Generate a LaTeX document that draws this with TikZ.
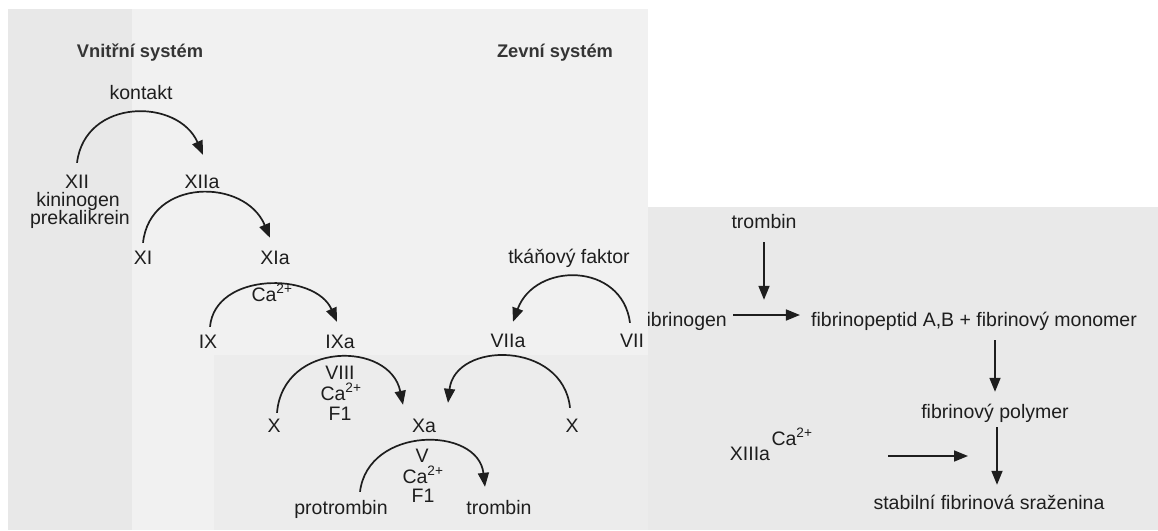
\documentclass[tikz,border=0pt]{standalone}
\usepackage{fontspec}
\setmainfont{Liberation Sans}
\usetikzlibrary{arrows.meta,calc}
\definecolor{ink}{HTML}{1E1E1E}
\definecolor{pageL}{HTML}{F1F1F1}
\definecolor{pageLd}{HTML}{E8E8E8}
\definecolor{pageLm}{HTML}{ECECEC}
\definecolor{pageR}{HTML}{E9E9E9}
\newcommand{\cadva}{Ca\textsuperscript{2+}}
\begin{document}
\begin{tikzpicture}[x=1pt,y=-1pt,
  lbl/.style={font=\fontsize{19.5}{22}\selectfont, text=ink, inner sep=0pt,
              text height=14pt, text depth=4pt, anchor=base},
  ttl/.style={font=\fontsize{18.3}{22}\selectfont\bfseries, text=ink!90, inner sep=0pt,
              text height=14pt, text depth=4pt, anchor=base},
  arr/.style={draw=ink, line width=1.7pt, -{Triangle[length=14pt,width=11pt]}}]
% background (scanned pages)
\useasboundingbox (0,0) rectangle (1158,530);
\fill[white] (0,0) rectangle (1158,530);
\fill[pageL] (8,9) rectangle (648,530);
\fill[pageLd] (8,9) rectangle (132,530);
\fill[pageLm] (214,355) rectangle (648,530);
\fill[pageR] (648,207) rectangle (1158,530);
% titles
\node[ttl] (vs) at (140,57) {Vnitřní systém};
\node[ttl] (zs) at (555,57) {Zevní systém};
% intrinsic pathway
\node[lbl] (kontakt) at (141,99) {kontakt};
\node[lbl] (XII) at (77,188) {XII};
\node[lbl] (XIIa) at (202,188) {XIIa};
\node[lbl] (kin) at (78,206) {kininogen};
\node[lbl] (pre) at (80,224) {prekalikrein};
\node[lbl] (XI) at (143,264) {XI};
\node[lbl] (XIa) at (275,264) {XIa};
\node[lbl] (ca1) at (272,301) {\cadva};
\node[lbl] (IX) at (208,348) {IX};
\node[lbl] (IXa) at (340,348) {IXa};
\node[lbl] (VIII) at (340,379) {VIII};
\node[lbl] (ca2) at (341,400) {\cadva};
\node[lbl] (F1a) at (340,420) {F1};
\node[lbl] (Xl) at (274,432) {X};
\node[lbl] (Xa) at (424,432) {Xa};
\node[lbl] (V) at (422,462) {V};
\node[lbl] (ca3) at (423,483) {\cadva};
\node[lbl] (F1b) at (423,502) {F1};
\node[lbl] (pro) at (341,514) {protrombin};
\node[lbl] (trb) at (499,514) {trombin};
% extrinsic pathway
\node[lbl] (tf) at (569,263) {tkáňový faktor};
\node[lbl] (VIIa) at (508,347) {VIIa};
\node[lbl] (VII) at (632,347) {VII};
\node[lbl] (Xr) at (572,432) {X};
% arcs
\draw[arr] ([yshift=11pt]XII.north) .. controls +(8,-65) and +(-25,-57) .. ([xshift=1pt,yshift=19pt]XIIa.north);
\draw[arr] ([yshift=7pt]XI.north) .. controls +(7,-65) and +(-25,-60) .. ([xshift=-5pt,yshift=12pt]XIa.north);
\draw[arr] ([xshift=2pt,yshift=7pt]IX.north) .. controls +(5,-55) and +(-22,-50) .. ([xshift=-3pt,yshift=12pt]IXa.north);
\draw[arr] ([xshift=3pt,yshift=5pt]Xl.north) .. controls +(6,-72) and +(-13,-64) .. ([xshift=-21pt,yshift=13pt]Xa.north);
\draw[arr] ([xshift=-2pt,yshift=10pt]Xr.north) .. controls +(-7,-67) and +(7,-62) .. ([xshift=24pt,yshift=15pt]Xa.north);
\draw[arr] ([xshift=19pt,yshift=8pt]pro.north) .. controls +(8,-66) and +(-7,-61) .. ([xshift=-14pt,yshift=13pt]trb.north);
\draw[arr] ([xshift=-2pt,yshift=10pt]VII.north) .. controls +(-8,-61) and +(22,-60) .. ([xshift=5pt,yshift=11pt]VIIa.north);
% fibrin formation
\node[lbl] (tR) at (764,228) {trombin};
\node[lbl] (fp) at (974,326) {fibrinopeptid A,B + fibrinový monomer};
\begin{scope}
\clip (648,280) rectangle (760,340);
\node[lbl, anchor=base east] (fg) at (727,326) {fibrinogen};
\end{scope}
\node[lbl] (poly) at (995,418) {fibrinový polymer};
\node[lbl] (stab) at (989,509) {stabilní fibrinová sraženina};
\node[lbl] (XIIIa) at (750,460) {XIIIa};
\node[lbl] (ca4) at (792,445) {\cadva};
\coordinate (hs) at (888,456);
\coordinate (he) at (968,456);
\draw[arr] ([yshift=-10pt]tR.south) -- ($(tR.south |- fp.north)+(0,-12)$);
\draw[arr] ([xshift=6pt,yshift=6pt]fg.east) -- ([xshift=-11pt,yshift=6pt]fp.west);
\draw[arr] ($(poly.north |- fp.south)+(0,10)$) -- ($(poly.north)+(0,-12)$);
\draw[arr] ($(poly.south)+(2,5)$) -- ($(poly.south |- stab.north)+(2,-10)$);
\draw[arr] (hs) -- (he);
\end{tikzpicture}
\end{document}
